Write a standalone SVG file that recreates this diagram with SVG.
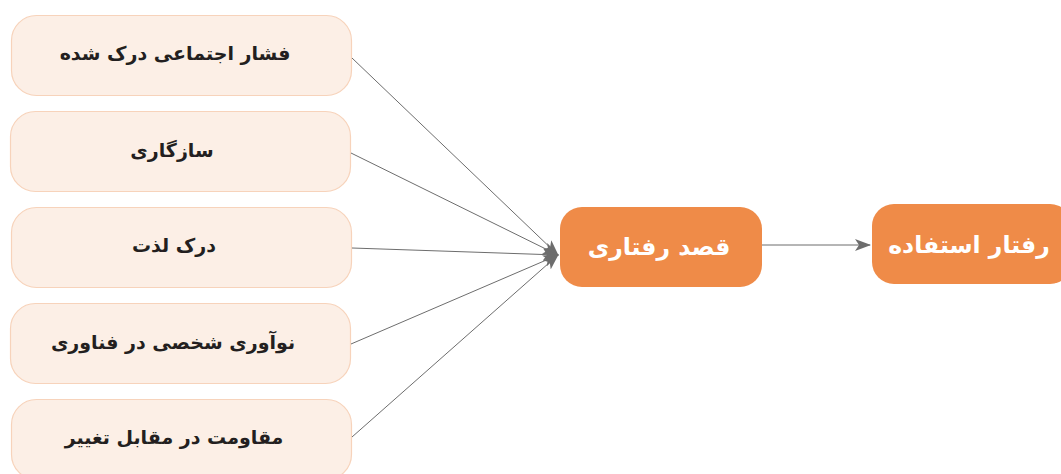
<svg xmlns="http://www.w3.org/2000/svg" width="1061" height="474" viewBox="0 0 1061 474">
<style>
.src rect{fill:#fcefe6;stroke:#f7d3bb;stroke-width:1.2}
.src text{font-family:"DejaVu Sans","Noto Sans",sans-serif;font-weight:bold;font-size:19px;fill:#231f20;text-anchor:middle;dominant-baseline:central}
.main rect{fill:#ef8b48}
.main text{font-family:"DejaVu Sans","Noto Sans",sans-serif;font-weight:bold;font-size:23.5px;fill:#ffffff;text-anchor:middle;dominant-baseline:central}
.conn path{stroke:#6d6d6d;stroke-width:1;fill:none}
</style>
<defs>
<marker id="ah" viewBox="0 0 16 12" refX="15" refY="6" markerWidth="16" markerHeight="12" markerUnits="userSpaceOnUse" orient="auto">
<path d="M0,0 L16,6 L0,12 L4,6 Z" fill="#6d6d6d"/>
</marker>
</defs>
<g id="n1" class="src"><rect x="11.5" y="15.5" width="340" height="80" rx="25"/><text x="175" y="53" direction="rtl">فشار اجتماعی درک شده</text></g>
<g id="n2" class="src"><rect x="10.5" y="111.5" width="340" height="80" rx="25"/><text x="172" y="150" direction="rtl">سازگاری</text></g>
<g id="n3" class="src"><rect x="11.5" y="207.5" width="340" height="80" rx="25"/><text x="174" y="245" direction="rtl">درک لذت</text></g>
<g id="n4" class="src"><rect x="10.5" y="303.5" width="340" height="80" rx="25"/><text x="173" y="342" direction="rtl">نوآوری شخصی در فناوری</text></g>
<g id="n5" class="src"><rect x="11.5" y="399.5" width="340" height="80" rx="25"/><text x="174" y="437" direction="rtl">مقاومت در مقابل تغییر</text></g>
<g id="n6" class="main"><rect x="560" y="207" width="202" height="80" rx="22"/><text x="659" y="247" direction="rtl">قصد رفتاری</text></g>
<g id="n7" class="main"><rect x="872" y="204" width="200" height="80" rx="22"/><text x="969" y="245" direction="rtl">رفتار استفاده</text></g>
<g id="connectors" class="conn">
<path d="M352,58 L558,255" marker-end="url(#ah)"/>
<path d="M351,153 L558,255" marker-end="url(#ah)"/>
<path d="M352,248 L558,255" marker-end="url(#ah)"/>
<path d="M351,344 L558,255" marker-end="url(#ah)"/>
<path d="M352,437 L558,255" marker-end="url(#ah)"/>
<path d="M762,245 L870,245" marker-end="url(#ah)"/>
</g>
</svg>
